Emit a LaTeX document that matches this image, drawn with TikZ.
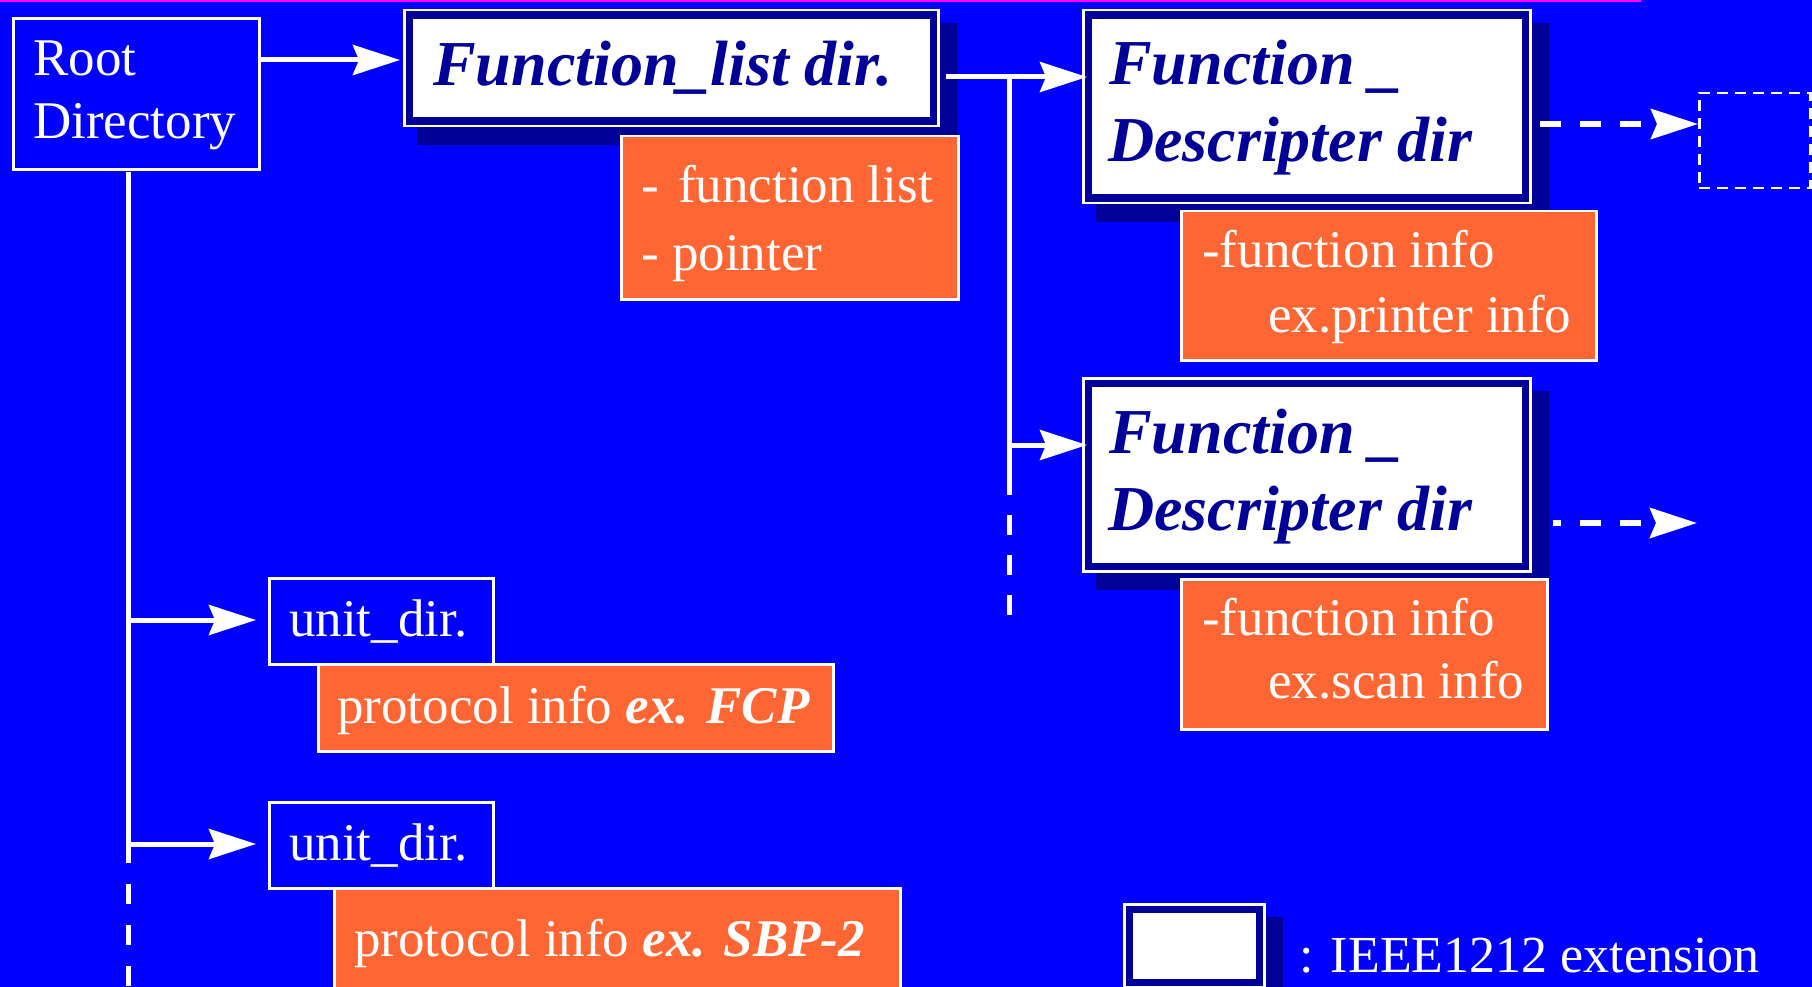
\documentclass[tikz,border=0pt]{standalone}
\usepackage{fontspec}
\setmainfont{Liberation Serif}
\usetikzlibrary{arrows.meta}
\definecolor{bgblue}{RGB}{0,0,255}
\definecolor{navy}{RGB}{0,0,153}
\definecolor{orng}{RGB}{255,102,51}
\definecolor{magline}{RGB}{255,0,255}
\tikzset{
  plainbox/.style={draw=white, line width=3pt, inner sep=0pt, anchor=north west},
  orangebox/.style={draw=white, fill=orng, line width=2.5pt, inner sep=0pt, anchor=north west},
  dashbox/.style={draw=white, line width=2.5pt, dash pattern=on 11pt off 7pt, inner sep=0pt, anchor=north west},
  extouter/.style={draw=white, fill=navy, line width=2.5pt, inner sep=0pt, anchor=north west},
  wline/.style={white, line width=5pt},
  conn/.style={wline, -{Stealth[length=47pt,width=30pt,inset=6pt]}},
  dashconn/.style={conn, line width=6pt, dash pattern=on 21pt off 19pt},
  txt/.style={text=white, font=\fontsize{53}{63}\selectfont, anchor=base west, inner sep=0pt},
  ttl/.style={text=navy, font=\fontsize{64}{77}\selectfont\bfseries\itshape, anchor=base west, inner sep=0pt},
}
% name, style, x1, y1, x2, y2
\newcommand\rectnode[6]{\node[#2, minimum width={(#5-#3)*1pt}, minimum height={(#6-#4)*1pt}] (#1) at (#3,#4) {};}
% IEEE1212 extension box: name, x1, y1, x2, y2
\newcommand\extbox[5]{%
  \fill[navy] (#2+14,#3+14) rectangle (#4+20,#5+20);
  \rectnode{#1}{extouter}{#2}{#3}{#4}{#5}
  \fill[white] ([shift={(10,10)}]#1.north west) rectangle ([shift={(-10,-10)}]#1.south east);
}
\begin{document}
\begin{tikzpicture}[x=1pt,y=-1pt]
\useasboundingbox (0,0) rectangle (1812,987);
\fill[bgblue] (0,0) rectangle (1812,987);
\draw[magline, line width=2.5pt] (0,1) -- (1641,1);

% Root directory
\rectnode{root}{plainbox}{12}{17}{258}{168}
\node[txt] (roott1) at (33,76) {Root};
\node[txt] (roott2) at (33,139) {Directory};

% Function_list dir
\extbox{fl}{403}{9}{937}{125}
\node[ttl] (flt) at (433,86) {Function\_list dir.};
\rectnode{o1}{orangebox}{620}{135}{957}{298}
\node[txt] (o1a) at (641,203) {-\hspace{6pt} function list};
\node[txt] (o1b) at (641,270) {- pointer};

\draw[conn, shorten >=3pt] (root.east |- 0,60) -- (fl.west |- 0,60);

% Function descripter 1
\extbox{fda}{1082}{9}{1529}{202}
\node[ttl] (fdat1) at (1109,85) {Function \_};
\node[ttl] (fdat2) at (1108,162) {Descripter dir};
\rectnode{o2}{orangebox}{1180}{210}{1595}{359}
\node[txt] (o2a) at (1202,267) {-function info};
\node[txt] (o2b) at (1268,332) {ex.printer info};

% Function descripter 2
\extbox{fdb}{1082}{377}{1529}{570}
\node[ttl] (fdbt1) at (1109,453) {Function \_};
\node[ttl] (fdbt2) at (1108,530) {Descripter dir};
\rectnode{o3}{orangebox}{1180}{578}{1546}{728}
\node[txt] (o3a) at (1202,635) {-function info};
\node[txt] (o3b) at (1268,698) {ex.scan info};

% dashed box
\rectnode{dbox}{dashbox}{1698}{92}{1809}{187}

% connectors FL -> FD
\coordinate (j1) at (1009,77);
\coordinate (j2) at (1009,445);
\coordinate (j3) at (1009,495);
\coordinate (j4) at (1009,618);
\draw[wline, shorten <=6pt] (fl.east |- j1) -- (j1);
\draw[conn, shorten >=-5pt] (j1) -- (fda.west |- j1);
\draw[wline] (j1) -- (j3);
\draw[wline, dash pattern=on 20pt off 20pt, dash phase=20pt] (j3) -- (j4);
\draw[conn, shorten >=-5pt] (j2) -- (fdb.west |- j2);

% dashed arrows out of FD boxes
\coordinate (e1) at (1698,124);
\coordinate (e2) at (1697,523);
\draw[dashconn, shorten <=8pt] (fda.east |- e1) -- (dbox.west |- e1);
\draw[dashconn, shorten <=21pt, dash phase=13pt] (fdb.east |- e2) -- (e2);

% unit directories
\rectnode{u1}{plainbox}{268}{577}{492}{663}
\node[txt] (u1t) at (289,636) {unit\_dir.};
\rectnode{o4}{orangebox}{317}{663}{832}{750}
\node[txt] (o4t) at (337,723) {protocol info \textbf{\textit{ex. FCP}}};
\rectnode{u2}{plainbox}{268}{801}{492}{887}
\node[txt] (u2t) at (289,860) {unit\_dir.};
\rectnode{o5}{orangebox}{333}{887}{899}{992}
\node[txt] (o5t) at (354,956) {protocol info \textbf{\textit{ex. SBP-2}}};

% root vertical line
\coordinate (v0) at (128,172);
\coordinate (v1) at (128,620);
\coordinate (v2) at (128,844);
\coordinate (v3) at (128,863);
\coordinate (v4) at (128,990);
\draw[wline] (v0) -- (v3);
\draw[wline, dash pattern=on 20pt off 21pt, dash phase=20pt] (v3) -- (v4);
\draw[conn, shorten >=12pt] (v1) -- (u1.west |- v1);
\draw[conn, shorten >=12pt] (v2) -- (u2.west |- v2);

% legend
\extbox{leg}{1123}{903}{1263}{986}
\node[txt, font=\fontsize{52}{62}\selectfont] (legt) at (1299,972) {: IEEE1212 extension};
\end{tikzpicture}
\end{document}
